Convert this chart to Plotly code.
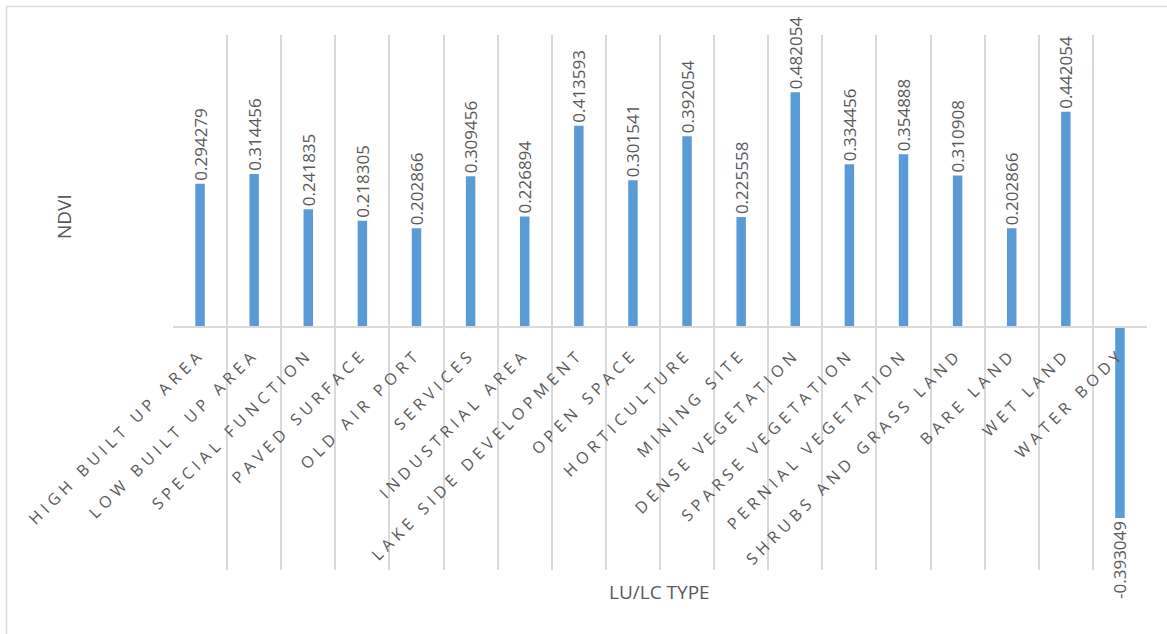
import plotly.graph_objects as go

# Land-use / land-cover classes and their mean NDVI
categories = [
    "HIGH BUILT UP AREA", "LOW BUILT UP AREA", "SPECIAL FUNCTION", "PAVED SURFACE",
    "OLD AIR PORT", "SERVICES", "INDUSTRIAL AREA", "LAKE SIDE DEVELOPMENT",
    "OPEN SPACE", "HORTICULTURE", "MINING SITE", "DENSE VEGETATION",
    "SPARSE VEGETATION", "PERNIAL VEGETATION", "SHRUBS AND GRASS LAND",
    "BARE LAND", "WET LAND", "WATER BODY",
]
ndvi = [
    0.294279, 0.314456, 0.241835, 0.218305, 0.202866, 0.309456, 0.226894, 0.413593,
    0.301541, 0.392054, 0.225558, 0.482054, 0.334456, 0.354888, 0.310908,
    0.202866, 0.442054, -0.393049,
]

W, H = 1167, 634
L, R, T, B = 173, 20, 35, 64
Y_RANGE = [-0.5, 0.6]

TEXT = "#595959"
GRID = "#d9d9d9"
FONT = "Open Sans"

fig = go.Figure(
    go.Bar(
        x=categories,
        y=ndvi,
        width=0.175,
        marker=dict(color="#5b9bd5", line=dict(width=0)),
        text=[f"{v:g}" for v in ndvi],
        textposition="outside",
        textangle=-90,
        constraintext="none",
        cliponaxis=False,
        textfont=dict(family=FONT, size=17, color=TEXT),
        hoverinfo="skip",
    )
)

# Pixel -> paper helpers for the frame and titles
pw, ph = W - L - R, H - T - B
def px_x(px):
    return (px - L) / pw
def px_y(py):
    return (H - B - py) / ph

zero_pos = (0 - Y_RANGE[0]) / (Y_RANGE[1] - Y_RANGE[0])

fig.update_layout(
    width=W,
    height=H,
    margin=dict(l=L, r=R, t=T, b=B, pad=0),
    paper_bgcolor="white",
    plot_bgcolor="white",
    showlegend=False,
    font=dict(family=FONT, color=TEXT),
    xaxis=dict(
        type="category",
        tickson="boundaries",
        showgrid=True,
        gridcolor=GRID,
        gridwidth=1.5,
        ticks="",
        tickangle=-45,
        ticklabelstandoff=11,
        tickfont=dict(family=FONT, size=16, color=TEXT),
        showline=True,
        linecolor=GRID,
        linewidth=1.5,
        anchor="free",
        position=zero_pos,
        zeroline=False,
    ),
    yaxis=dict(
        range=Y_RANGE,
        showticklabels=False,
        showgrid=False,
        zeroline=False,
        showline=False,
        ticks="",
    ),
    shapes=[
        dict(
            type="rect", xref="paper", yref="paper",
            x0=px_x(6.5), x1=px_x(W + 5), y0=px_y(H + 5), y1=px_y(6.5),
            line=dict(color=GRID, width=1.5), fillcolor="rgba(0,0,0,0)",
            layer="below",
        )
    ],
    annotations=[
        dict(
            text="NDVI", xref="paper", yref="paper",
            x=px_x(64), y=px_y(217), showarrow=False, textangle=-90,
            xanchor="center", yanchor="middle",
            font=dict(family=FONT, size=19, color=TEXT),
        ),
        dict(
            text="LU/LC TYPE", xref="paper", yref="paper",
            x=px_x(659), y=px_y(592), showarrow=False,
            xanchor="center", yanchor="middle",
            font=dict(family=FONT, size=19, color=TEXT),
        ),
    ],
)

# Spaced-out capitals for the category labels
post_js = (
    "var s=document.createElement('style');"
    "s.textContent='.xtick text{letter-spacing:4.7px}';"
    "document.head.appendChild(s);"
)

fig.write_html("out.html", post_script=post_js)
